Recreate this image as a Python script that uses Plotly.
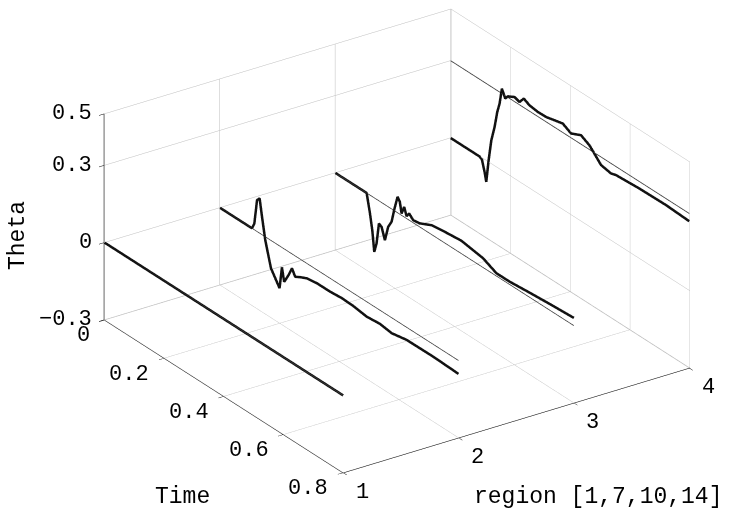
import plotly.graph_objects as go

# ---- data ----
regions = [1, 2, 3, 4]
region_title = "region [1,7,10,14]"
true_theta = [0.0, 0.0, 0.0, 0.3]
time_span = [0.0, 0.8]

t1 = [0.0, 0.8]
est1 = [0.0, 0.0]

t2 = [0.0, 0.107, 0.115, 0.124, 0.1326, 0.1406, 0.1516, 0.1594, 0.1707, 0.185, 0.1996,
      0.2075, 0.215, 0.2297, 0.241, 0.252, 0.2688, 0.291, 0.3247, 0.369, 0.408, 0.447,
      0.492, 0.536, 0.576, 0.626, 0.715, 0.8]
est2 = [0.0, 0.0, 0.025, 0.122, 0.135, 0.070, -0.013, -0.052, -0.108, -0.136, -0.164,
        -0.077, -0.128, -0.091, -0.056, -0.081, -0.070, -0.058, -0.052, -0.052, -0.048, -0.050,
        -0.058, -0.053, -0.060, -0.049, -0.048, -0.052]

t3 = [0.0, 0.1047, 0.1158, 0.1236, 0.1303, 0.138, 0.146, 0.155, 0.166, 0.177, 0.1884,
      0.197, 0.2085, 0.216, 0.222, 0.2306, 0.2387, 0.2474, 0.2608, 0.283, 0.3223, 0.356,
      0.4227, 0.495, 0.540, 0.584, 0.651, 0.718, 0.8]
est3 = [0.0, 0.0, -0.071, -0.131, -0.210, -0.171, -0.088, -0.095, -0.138, -0.078, -0.050,
        0.002, 0.062, 0.048, 0.007, 0.039, 0.009, 0.026, 0.010, 0.014, 0.036, 0.042,
        0.050, 0.036, 0.011, 0.011, 0.018, 0.024, 0.030]

t4 = [0.0, 0.0967, 0.1045, 0.1135, 0.119, 0.127, 0.136, 0.147, 0.156, 0.1637, 0.1715,
      0.1828, 0.1916, 0.214, 0.2306, 0.245, 0.264, 0.292, 0.32, 0.3478, 0.3756, 0.4037,
      0.437, 0.465, 0.4817, 0.504, 0.5376, 0.554, 0.632, 0.722, 0.8]
est4 = [0.0, 0.0, -0.006, -0.048, -0.082, 0.008, 0.092, 0.152, 0.217, 0.255, 0.319,
        0.289, 0.304, 0.318, 0.311, 0.335, 0.323, 0.318, 0.319, 0.327, 0.335, 0.317,
        0.335, 0.317, 0.297, 0.269, 0.261, 0.267, 0.273, 0.275, 0.270]

time_ticks = [0, 0.2, 0.4, 0.6, 0.8]
time_ticktext = ["0", "0.2", "0.4", "0.6", "0.8"]
theta_ticks = [-0.3, 0, 0.3, 0.5]
theta_ticktext = ["\u22120.3", "0", "0.3", "0.5"]
region_ticks = [1, 2, 3, 4]
region_ticktext = ["1", "2", "3", "4"]

times = [t1, t2, t3, t4]
ests = [est1, est2, est3, est4]

FONT = "Liberation Mono, Courier New, monospace"
TICK_FONT = dict(family=FONT, size=22, color="black")
TITLE_FONT = dict(family=FONT, size=23, color="black")

fig = go.Figure()
for r, tt in zip(regions, true_theta):
    fig.add_trace(go.Scatter3d(x=time_span, y=[r, r], z=[tt, tt], mode="lines",
                               line=dict(color="#3a3a3a", width=1.5), showlegend=False,
                               hoverinfo="skip"))
for r, t, e in zip(regions, times, ests):
    fig.add_trace(go.Scatter3d(x=t, y=[r] * len(t), z=e, mode="lines",
                               line=dict(color="#111111", width=5), showlegend=False,
                               hoverinfo="skip"))

axis_common = dict(showbackground=False, showgrid=True, gridcolor="#bdbdbd", gridwidth=1,
                   zeroline=False, showline=True, linecolor="black", linewidth=1,
                   ticks="outside", ticklen=6, tickcolor="black", showspikes=False,
                   showticklabels=False, title=dict(text=""))

# tick labels as scene annotations (horizontal text, like the reference)
scene_ann = []
for v, txt in zip(theta_ticks, theta_ticktext):
    scene_ann.append(dict(x=0, y=1, z=v, text=txt, showarrow=False, xanchor="right",
                          yanchor="middle", xshift=-11, yshift=0, font=TICK_FONT))
for v, txt in zip(time_ticks, time_ticktext):
    scene_ann.append(dict(x=v, y=1, z=-0.3, text=txt, showarrow=False, xanchor="right",
                          yanchor="middle", xshift=-13, yshift=-16, font=TICK_FONT))
for v, txt in zip(region_ticks, region_ticktext):
    scene_ann.append(dict(x=0.8, y=v, z=-0.3, text=txt, showarrow=False, xanchor="center",
                          yanchor="middle", xshift=19, yshift=-20, font=TICK_FONT))

eye_dir = (0.740, -0.5086, 0.4401)
center = (-0.0181, -0.0790, -0.0608)
k = 2.5
fig.update_layout(
    width=755, height=517,
    margin=dict(l=0, r=0, t=0, b=0),
    paper_bgcolor="white",
    scene=dict(
        domain=dict(x=[0, 1], y=[0, 1]),
        xaxis=dict(range=[-0.001, 0.801], tickvals=time_ticks, autorange=False, **axis_common),
        yaxis=dict(range=[0.996, 4.004], tickvals=region_ticks, autorange=False, **axis_common),
        zaxis=dict(range=[-0.3, 0.5], tickvals=theta_ticks, autorange=False, **axis_common),
        aspectmode="manual",
        aspectratio=dict(x=1.6325, y=1.6286, z=0.8874),
        camera=dict(projection=dict(type="orthographic"),
                    eye=dict(x=center[0] + eye_dir[0] * k, y=center[1] + eye_dir[1] * k,
                             z=center[2] + eye_dir[2] * k),
                    up=dict(x=0, y=0, z=1),
                    center=dict(x=center[0], y=center[1], z=center[2])),
        annotations=scene_ann,
    ),
    annotations=[
        dict(text="Time", xref="paper", yref="paper", x=182 / 755, y=1 - 497 / 517,
             xanchor="center", yanchor="middle", showarrow=False, font=TITLE_FONT),
        dict(text=region_title, xref="paper", yref="paper", x=598 / 755, y=1 - 497 / 517,
             xanchor="center", yanchor="middle", showarrow=False, font=TITLE_FONT),
        dict(text="Theta", xref="paper", yref="paper", x=18 / 755, y=1 - 236 / 517,
             xanchor="center", yanchor="middle", showarrow=False, textangle=-90, font=TITLE_FONT),
    ],
)

fig.write_html("out.html")
